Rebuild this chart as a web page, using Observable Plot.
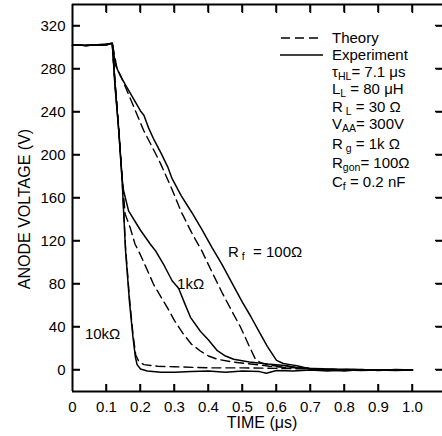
<!DOCTYPE html>
<html><head><meta charset="utf-8">
<script src="https://cdn.jsdelivr.net/npm/d3@7"></script>
<script src="https://cdn.jsdelivr.net/npm/@observablehq/plot@0.6"></script>
<style>
body{margin:0;background:#fff}
svg{font-family:"Liberation Sans",Arial,Helvetica,sans-serif}
</style>
</head><body><div id="chart"></div>
<script>
// ---- data (time in µs, anode voltage in V) ----
const xTicks = [0, 0.1, 0.2, 0.3, 0.4, 0.5, 0.6, 0.7, 0.8, 0.9, 1.0];
const xTickLabels = ["0", "0.1", "0.2", "0.3", "0.4", "0.5", "0.6", "0.7", "0.8", "0.9", "1.0"];
const yTicks = [0, 40, 80, 120, 160, 200, 240, 280, 320];
const yTickLabels = ["0", "40", "80", "120", "160", "200", "240", "280", "320"];

const exp10kT = [0, 0.02, 0.04, 0.06, 0.08, 0.1, 0.112, 0.117, 0.125, 0.136, 0.146, 0.156, 0.168, 0.178, 0.185, 0.19, 0.2, 0.22, 0.26, 0.3, 0.35, 0.4, 0.45, 0.5, 0.55, 0.57, 0.6, 0.65, 0.7, 0.75, 0.8, 0.85, 0.9, 0.95, 1.0];
const exp10kV = [302, 302.5, 301.5, 302.5, 302, 303, 303.5, 304, 265, 223, 176, 111, 62, 30, 12, 5, 1, -1, -2, -2, -1.5, -1, -2, -1, -1.5, -3, -0.5, -1, 0, -1, 0, -0.5, 0, -0.5, 0];

const th10kT = [0, 0.05, 0.1, 0.117, 0.125, 0.136, 0.146, 0.156, 0.168, 0.178, 0.186, 0.195, 0.21, 0.25, 0.3, 0.4, 0.5, 0.6, 0.7, 0.8, 1.0];
const th10kV = [302, 302, 302.5, 304, 268, 225, 178, 114, 65, 33, 14, 8, 5, 3.5, 3, 2, 2, 1.5, 1, 0.5, 0];

const exp1kT = [0, 0.05, 0.1, 0.117, 0.125, 0.136, 0.146, 0.15, 0.165, 0.2, 0.229, 0.244, 0.27, 0.293, 0.312, 0.33, 0.347, 0.376, 0.4, 0.426, 0.45, 0.474, 0.52, 0.574, 0.632, 0.66, 0.7, 0.75, 0.8, 0.9, 1.0];
const exp1kV = [302, 302, 303, 304, 265, 223, 178, 167, 148, 130, 117, 111, 97, 83, 76, 62, 49, 36, 28, 18, 13, 10, 7.5, 5.6, 4, 2, 1, 0, 0.5, 0, 0];

const th1kT = [0, 0.05, 0.1, 0.117, 0.125, 0.136, 0.146, 0.155, 0.17, 0.184, 0.194, 0.21, 0.238, 0.26, 0.279, 0.3, 0.326, 0.35, 0.376, 0.4, 0.426, 0.47, 0.524, 0.58, 0.62, 0.7, 0.8, 1.0];
const th1kV = [302, 302, 302.5, 304, 268, 225, 178, 145, 132, 117, 111, 100, 80, 68, 58, 46, 33.6, 24, 17.7, 13, 10, 7.5, 5.6, 3.5, 2.5, 1.5, 0.5, 0];

const exp100T = [0, 0.05, 0.1, 0.117, 0.126, 0.14, 0.16, 0.18, 0.2, 0.21, 0.224, 0.24, 0.26, 0.28, 0.293, 0.32, 0.35, 0.38, 0.41, 0.44, 0.474, 0.5, 0.524, 0.55, 0.573, 0.6, 0.62, 0.64, 0.66, 0.7, 0.75, 0.8, 0.85, 0.9, 0.95, 1.0];
const exp100V = [302, 302, 303, 304, 284, 274, 263, 252, 241, 237, 225, 214, 202, 189, 178, 162, 147, 131, 114, 98, 78, 63, 50, 35, 22, 9, 6, 5, 4, 1, 0, -1, 0.5, -0.5, 0.5, 0];

const th100T = [0, 0.05, 0.1, 0.117, 0.13, 0.156, 0.18, 0.209, 0.24, 0.259, 0.29, 0.32, 0.35, 0.38, 0.415, 0.44, 0.47, 0.494, 0.52, 0.538, 0.555, 0.58, 0.62, 0.66, 0.7, 0.8, 1.0];
const th100V = [302, 302, 302.5, 304, 282, 263, 245, 223, 204, 192, 170, 147, 128, 111, 88, 72, 54, 40, 22, 10, 6.5, 4.5, 3, 2.5, 1.5, 0.5, 0];

const legendRows = [
  [["τ", ""], ["HL", "sub"], ["= 7.1 μs", ""]],
  [["L", ""], ["L", "sub"], [" = 80 μH", ""]],
  [["R", ""], [" L", "sub"], [" = 30 Ω", ""]],
  [["V", ""], ["AA", "sub"], ["= 300V", ""]],
  [["R", ""], [" g", "sub"], [" = 1k Ω", ""]],
  [["R", ""], ["gon", "sub"], ["= 100Ω", ""]],
  [["C", ""], ["f", "sub"], [" = 0.2 nF", ""]]
];
const curveLabels = [
  {t: 0.459, v: 110, parts: [["R", ""], [" f", "sub"], ["  = 100Ω", ""]]},
  {t: 0.309, v: 80, parts: [["1kΩ", ""]]},
  {t: 0.038, v: 33, parts: [["10kΩ", ""]]}
];

// ---- build table ----
function rows(T, V, series, kind) { return T.map((t, i) => ({t, v: V[i], series, kind})); }
const expData = [...rows(exp100T, exp100V, "100", "exp"), ...rows(exp1kT, exp1kV, "1k", "exp"), ...rows(exp10kT, exp10kV, "10k", "exp")];
const thData = [...rows(th100T, th100V, "100", "th"), ...rows(th1kT, th1kV, "1k", "th"), ...rows(th10kT, th10kV, "10k", "th")];

const W = 442, H = 436;
const mL = 72, mR = 0, mT = 4, mB = 45;
const innerW = W - mL - mR;
const xDom = [0, innerW / 340], yDom = [-20, 340];
const noText = () => "";

const plot = Plot.plot({
  width: W, height: H,
  marginLeft: mL, marginRight: mR, marginTop: mT, marginBottom: mB,
  x: {domain: xDom, label: null},
  y: {domain: yDom, label: null},
  style: {fontSize: "15px", fontFamily: '"Liberation Sans", Arial, sans-serif'},
  marks: [
    Plot.axisX(xTicks, {anchor: "bottom", tickSize: 0, tickPadding: 10, tickFormat: d => xTickLabels[xTicks.indexOf(d)], fontSize: 15, fill: "black", label: null}),
    Plot.axisY(yTicks, {anchor: "left", tickSize: 0, tickPadding: 7, tickFormat: d => yTickLabels[yTicks.indexOf(d)], fontSize: 15, fill: "black", label: null}),
    // frame (top, bottom, left)
    Plot.ruleY([yDom[1]], {stroke: "black", strokeWidth: 2}),
    Plot.ruleY([yDom[0]], {stroke: "black", strokeWidth: 2}),
    Plot.ruleX([0], {stroke: "black", strokeWidth: 2}),
    Plot.line(thData, {x: "t", y: "v", z: "series", stroke: "black", strokeWidth: 1.4, strokeDasharray: "9,5"}),
    Plot.line(expData, {x: "t", y: "v", z: "series", stroke: "black", strokeWidth: 1.5}),
    // inward ticks (Plot axes with negative tick length)
    Plot.axisX(xTicks.slice(1), {anchor: "bottom", tickSize: -7, tickFormat: noText, label: null, stroke: "black", strokeWidth: 1.5}),
    Plot.axisX(xTicks.slice(1), {anchor: "top", tickSize: -8, tickFormat: noText, label: null, stroke: "black", strokeWidth: 1.5}),
    Plot.axisY(yTicks, {anchor: "left", tickSize: -8, tickFormat: noText, label: null, stroke: "black", strokeWidth: 1.5}),
    Plot.axisY(yTicks, {anchor: "right", tickSize: -7, tickFormat: noText, label: null, stroke: "black", strokeWidth: 1.5})
  ]
});
document.getElementById("chart").appendChild(plot);

const svg = d3.select(plot);
const sx = plot.scale("x"), sy = plot.scale("y");

// inward ticks again as plain lines placed with Plot's scales (overlapping the above)
const xL = sx.apply(xDom[0]), xR = sx.apply(xDom[1]);
const yB = sy.apply(yDom[0]), yT = sy.apply(yDom[1]);
const tg = svg.append("g").attr("stroke", "black").attr("stroke-width", 1.5);
xTicks.slice(1).forEach(t => {
  const px = sx.apply(t);
  tg.append("line").attr("x1", px).attr("x2", px).attr("y1", yB).attr("y2", yB - 7);
  tg.append("line").attr("x1", px).attr("x2", px).attr("y1", yT).attr("y2", yT + 8);
});
yTicks.forEach(v => {
  const py = sy.apply(v);
  tg.append("line").attr("x1", xL).attr("x2", xL + 8).attr("y1", py).attr("y2", py);
  tg.append("line").attr("x1", xR).attr("x2", xR - 7).attr("y1", py).attr("y2", py);
});

function addParts(sel, parts, subSize) {
  parts.forEach(([s, k]) => {
    const ts = sel.append("tspan").text(s);
    if (k === "sub") ts.attr("font-size", subSize).attr("baseline-shift", "-30%");
  });
}

// axis titles
svg.append("text").attr("x", 262).attr("y", 428).attr("text-anchor", "middle")
  .attr("font-size", 16).attr("fill", "black").text("TIME (μs)");
svg.append("text").attr("transform", "translate(30,209) rotate(-90)").attr("text-anchor", "middle")
  .attr("font-size", 16).attr("fill", "black").text("ANODE VOLTAGE (V)");

// legend
const lx = 332;
svg.append("line").attr("x1", 281).attr("x2", 320).attr("y1", 38).attr("y2", 38)
  .attr("stroke", "black").attr("stroke-width", 1.4).attr("stroke-dasharray", "9,5");
svg.append("line").attr("x1", 280).attr("x2", 323).attr("y1", 55).attr("y2", 55)
  .attr("stroke", "black").attr("stroke-width", 1.5);
svg.append("text").attr("x", lx).attr("y", 38).attr("dy", "0.35em").attr("text-anchor", "start").attr("font-size", 15).attr("fill", "black").text("Theory");
svg.append("text").attr("x", lx).attr("y", 55).attr("dy", "0.35em").attr("text-anchor", "start").attr("font-size", 15).attr("fill", "black").text("Experiment");
const rowY = [72, 89, 107, 124, 144, 163, 182];
legendRows.forEach((parts, i) => {
  const t = svg.append("text").attr("x", lx).attr("y", rowY[i]).attr("dy", "0.35em").attr("text-anchor", "start").attr("font-size", 15).attr("fill", "black");
  addParts(t, parts, 10.5);
});

// curve labels
curveLabels.forEach(c => {
  const t = svg.append("text").attr("x", sx.apply(c.t)).attr("y", sy.apply(c.v)).attr("dy", "0.35em").attr("text-anchor", "start").attr("font-size", 15).attr("fill", "black");
  addParts(t, c.parts, 10.5);
});
</script>
</body></html>
